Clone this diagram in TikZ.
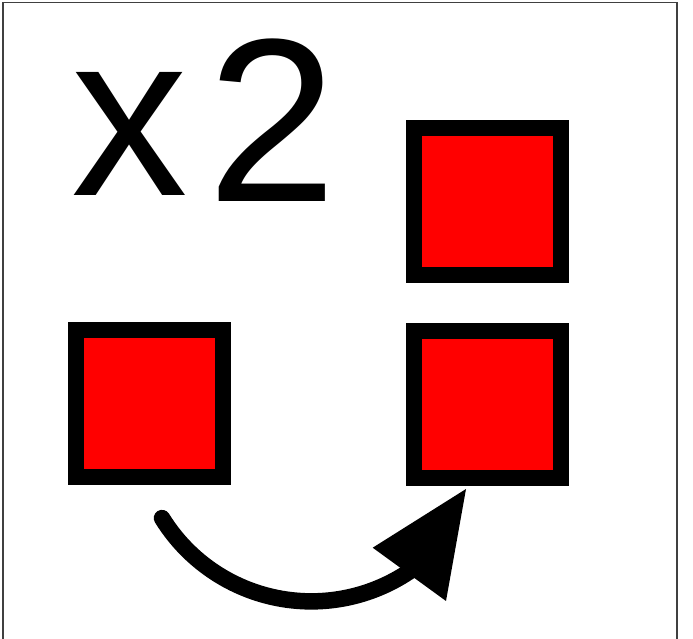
\documentclass[tikz,border=0pt]{standalone}
\usepackage{fontspec}
\setmainfont{Liberation Sans}
\begin{document}
\begin{tikzpicture}[x=1pt,y=1pt,
  sq/.style={rectangle, draw=black, fill=red, line width=16pt, minimum size=147pt, inner sep=0pt},
  frameline/.style={draw=black!75, line width=1.5pt},
  shaft/.style={line width=16.5pt, black}]
\useasboundingbox (0,0) rectangle (693,639);
\draw[frameline] (2.8,-20) -- (2.8,636.6) -- (676.8,636.6) -- (676.8,-20);
\node[anchor=base west, inner sep=0pt, font=\fontsize{233}{233}\selectfont] (label) at (71.6,443) {x\kern19pt\raisebox{-5.7pt}{2}};
\node[sq] (left) at (149.9,235) {};
\node[sq] (topright) at (487.5,437) {};
\node[sq] (botright) at (487.5,234.3) {};
\coordinate (s) at (162.0,120.9);
\coordinate (tip) at (466,150);
\coordinate (h1) at (372.7,91.3);
\coordinate (h2) at (446,38);
\draw[shaft, line cap=round] (s) arc[start angle=211.7, end angle=305, radius=175.5];
\fill[black] (tip) -- (h1) -- (h2) -- cycle;
\end{tikzpicture}
\end{document}
